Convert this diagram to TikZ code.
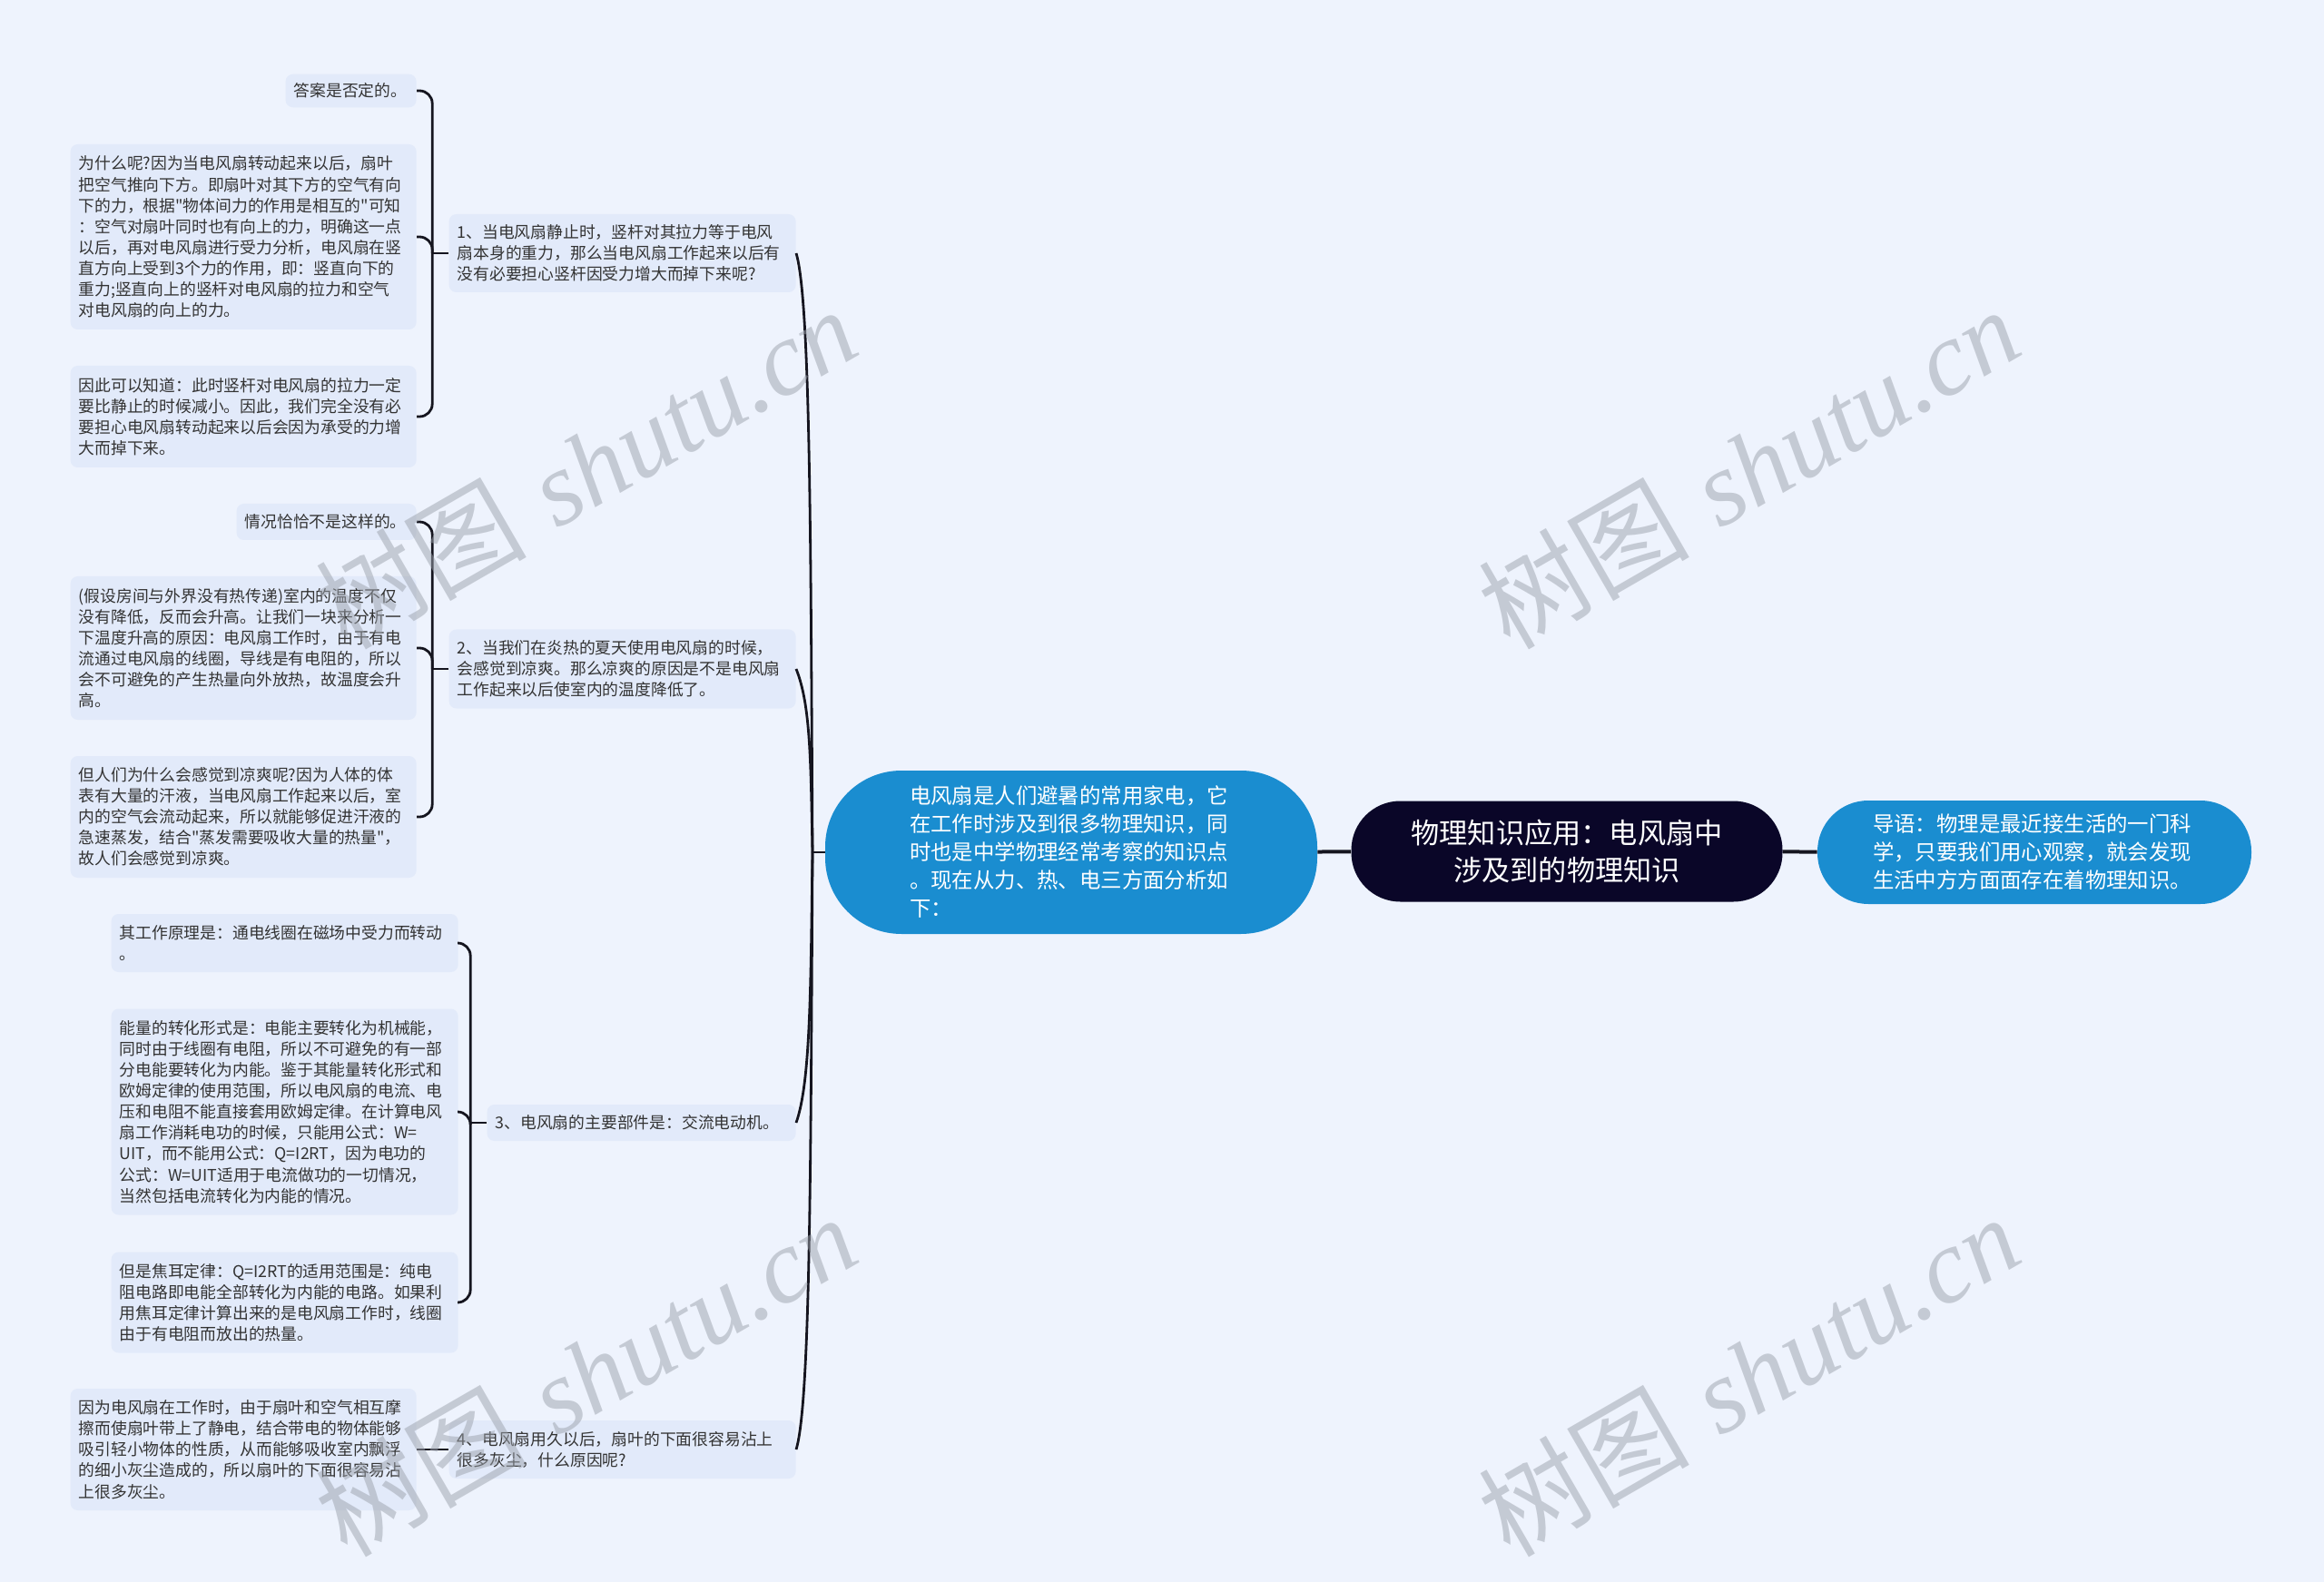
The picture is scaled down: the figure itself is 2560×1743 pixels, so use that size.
\documentclass[tikz,border=0pt]{standalone}
\usepackage{fontspec}
\newfontfamily\cjk{Noto Sans CJK SC}
\newfontfamily\wmfont{Liberation Serif}
\usetikzlibrary{calc}

\definecolor{bgcol}{HTML}{EEF3FD}
\definecolor{leafcol}{HTML}{E2EAFA}
\definecolor{bluecol}{HTML}{1A8DD0}
\definecolor{darkcol}{HTML}{0A0628}
\definecolor{linecol}{HTML}{15151F}
\definecolor{txtcol}{HTML}{333333}
\definecolor{wmcol}{HTML}{9CA2AC}

\begin{document}
\begin{tikzpicture}[x=0.5pt, y=-0.5pt,
    leaf/.style={fill=leafcol, rounded corners=4pt, inner xsep=4.5pt, inner ysep=5pt,
      align=left, anchor=east, text=txtcol, font=\cjk\fontsize{8.9}{11.55}\selectfont},
    bignode/.style={rounded corners=#1, inner sep=0pt, text=white},
    conn/.style={draw=linecol, line width=1.4pt},
    brace/.style={conn, rounded corners=7pt},
    watermark/.style={rotate=30, text=wmcol, text opacity=0.5, font=\fontsize{58}{58}\selectfont}]
    \useasboundingbox (0,0) rectangle (2560,1743);
    \fill[bgcol] (0,0) rectangle (2560,1743);

    % Main nodes
    \node[bignode=27pt, fill=darkcol, minimum width=237.5pt, minimum height=55.5pt, align=center,
      font=\cjk\fontsize{15.6}{20.5}\selectfont] (title) at (1726,938) {物理知识应用：电风扇中\\涉及到的物理知识};
    \node[bignode=28pt, fill=bluecol, minimum width=239pt, minimum height=57pt, text width=178pt, align=left,
      font=\cjk\fontsize{11.7}{15.5}\selectfont] (guide) at (2241,939) {导语：物理是最近接生活的一门科\\学，只要我们用心观察，就会发现\\生活中方方面面存在着物理知识。};
    \node[bignode=42pt, fill=bluecol, minimum width=271pt, minimum height=90pt, text width=178pt, align=left,
      font=\cjk\fontsize{11.7}{15.5}\selectfont] (intro) at (1180,939) {电风扇是人们避暑的常用家电，它\\在工作时涉及到很多物理知识，同\\时也是中学物理经常考察的知识点\\。现在从力、热、电三方面分析如\\下：};
    \coordinate (sp) at (895,939);

    % Branch 1
    \node[leaf, text width=182pt, minimum height=43pt] (b1) at (877,279) {1、当电风扇静止时，竖杆对其拉力等于电风\\扇本身的重力，那么当电风扇工作起来以后有\\没有必要担心竖杆因受力增大而掉下来呢?};
    \node[leaf, text width=63pt, minimum height=18pt] (l1a) at (459,100) {答案是否定的。};
    \node[leaf, text width=181.5pt, minimum height=102pt] (l1b) at (459,261) {为什么呢?因为当电风扇转动起来以后，扇叶\\把空气推向下方。即扇叶对其下方的空气有向\\下的力，根据"物体间力的作用是相互的"可知\\：空气对扇叶同时也有向上的力，明确这一点\\以后，再对电风扇进行受力分析，电风扇在竖\\直方向上受到3个力的作用，即：竖直向下的\\重力;竖直向上的竖杆对电风扇的拉力和空气\\对电风扇的向上的力。};
    \node[leaf, text width=181.5pt, minimum height=56pt] (l1c) at (459,459) {因此可以知道：此时竖杆对电风扇的拉力一定\\要比静止的时候减小。因此，我们完全没有必\\要担心电风扇转动起来以后会因为承受的力增\\大而掉下来。};

    % Branch 2
    \node[leaf, text width=182pt, minimum height=43.5pt] (b2) at (877,737) {2、当我们在炎热的夏天使用电风扇的时候，\\会感觉到凉爽。那么凉爽的原因是不是电风扇\\工作起来以后使室内的温度降低了。};
    \node[leaf, text width=90pt, minimum height=20pt] (l2a) at (459,575) {情况恰恰不是这样的。};
    \node[leaf, text width=181.5pt, minimum height=79pt] (l2b) at (459,714) {(假设房间与外界没有热传递)室内的温度不仅\\没有降低，反而会升高。让我们一块来分析一\\下温度升高的原因：电风扇工作时，由于有电\\流通过电风扇的线圈，导线是有电阻的，所以\\会不可避免的产生热量向外放热，故温度会升\\高。};
    \node[leaf, text width=181.5pt, minimum height=67pt] (l2c) at (459,900) {但人们为什么会感觉到凉爽呢?因为人体的体\\表有大量的汗液，当电风扇工作起来以后，室\\内的空气会流动起来，所以就能够促进汗液的\\急速蒸发，结合"蒸发需要吸收大量的热量"，\\故人们会感觉到凉爽。};

    % Branch 3
    \node[leaf, text width=161pt, minimum height=20pt] (b3) at (877,1237) {3、电风扇的主要部件是：交流电动机。};
    \node[leaf, text width=182pt, minimum height=32pt] (l3a) at (505,1039) {其工作原理是：通电线圈在磁场中受力而转动\\。};
    \node[leaf, text width=182pt, minimum height=113.5pt] (l3b) at (505,1225) {能量的转化形式是：电能主要转化为机械能，\\同时由于线圈有电阻，所以不可避免的有一部\\分电能要转化为内能。鉴于其能量转化形式和\\欧姆定律的使用范围，所以电风扇的电流、电\\压和电阻不能直接套用欧姆定律。在计算电风\\扇工作消耗电功的时候，只能用公式：W=\\UIT，而不能用公式：Q=I2RT，因为电功的\\公式：W=UIT适用于电流做功的一切情况，\\当然包括电流转化为内能的情况。};
    \node[leaf, text width=182pt, minimum height=55.5pt] (l3c) at (505,1435) {但是焦耳定律：Q=I2RT的适用范围是：纯电\\阻电路即电能全部转化为内能的电路。如果利\\用焦耳定律计算出来的是电风扇工作时，线圈\\由于有电阻而放出的热量。};

    % Branch 4
    \node[leaf, text width=182pt, minimum height=32pt] (b4) at (877,1597) {4、电风扇用久以后，扇叶的下面很容易沾上\\很多灰尘，什么原因呢?};
    \node[leaf, text width=181.5pt, minimum height=67pt] (l4) at (459,1597) {因为电风扇在工作时，由于扇叶和空气相互摩\\擦而使扇叶带上了静电，结合带电的物体能够\\吸引轻小物体的性质，从而能够吸收室内飘浮\\的细小灰尘造成的，所以扇叶的下面很容易沾\\上很多灰尘。};

    % Connectors
    \draw[conn, line width=2pt] (intro) -- (title);
    \draw[conn, line width=2pt] (title) -- (guide);
    \draw[conn] (intro.west) -- (sp);
    \draw[conn] (sp) .. controls ($(sp)+(-2,-330)$) and ($(b1.east)+(16,52)$) .. (b1.east);
    \draw[conn] (sp) .. controls ($(sp)+(-2,-101)$) and ($(b2.east)+(16,40)$) .. (b2.east);
    \draw[conn] (sp) .. controls ($(sp)+(-2,149)$) and ($(b3.east)+(16,-45)$) .. (b3.east);
    \draw[conn] (sp) .. controls ($(sp)+(-2,329)$) and ($(b4.east)+(16,-52)$) .. (b4.east);

    \coordinate (j1) at ($(b1.west)+(-18,0)$);
    \draw[conn] (b1.west) -- (j1);
    \foreach \leafname in {l1a,l1b,l1c}
        \draw[brace] (j1) |- (\leafname.east);
    \coordinate (j2) at ($(b2.west)+(-18,0)$);
    \draw[conn] (b2.west) -- (j2);
    \foreach \leafname in {l2a,l2b,l2c}
        \draw[brace] (j2) |- (\leafname.east);
    \coordinate (j3) at ($(b3.west)+(-18,0)$);
    \draw[conn] (b3.west) -- (j3);
    \foreach \leafname in {l3a,l3b,l3c}
        \draw[brace] (j3) |- (\leafname.east);
    \draw[conn] (b4.west) -- (l4.east);

    % Watermarks
    \foreach \wx/\wy in {645/515, 1926/515, 645/1515, 1926/1515}
        \node[watermark] at (\wx,\wy) {{\cjk 树图} {\wmfont\itshape shutu.cn}};
\end{tikzpicture}
\end{document}
